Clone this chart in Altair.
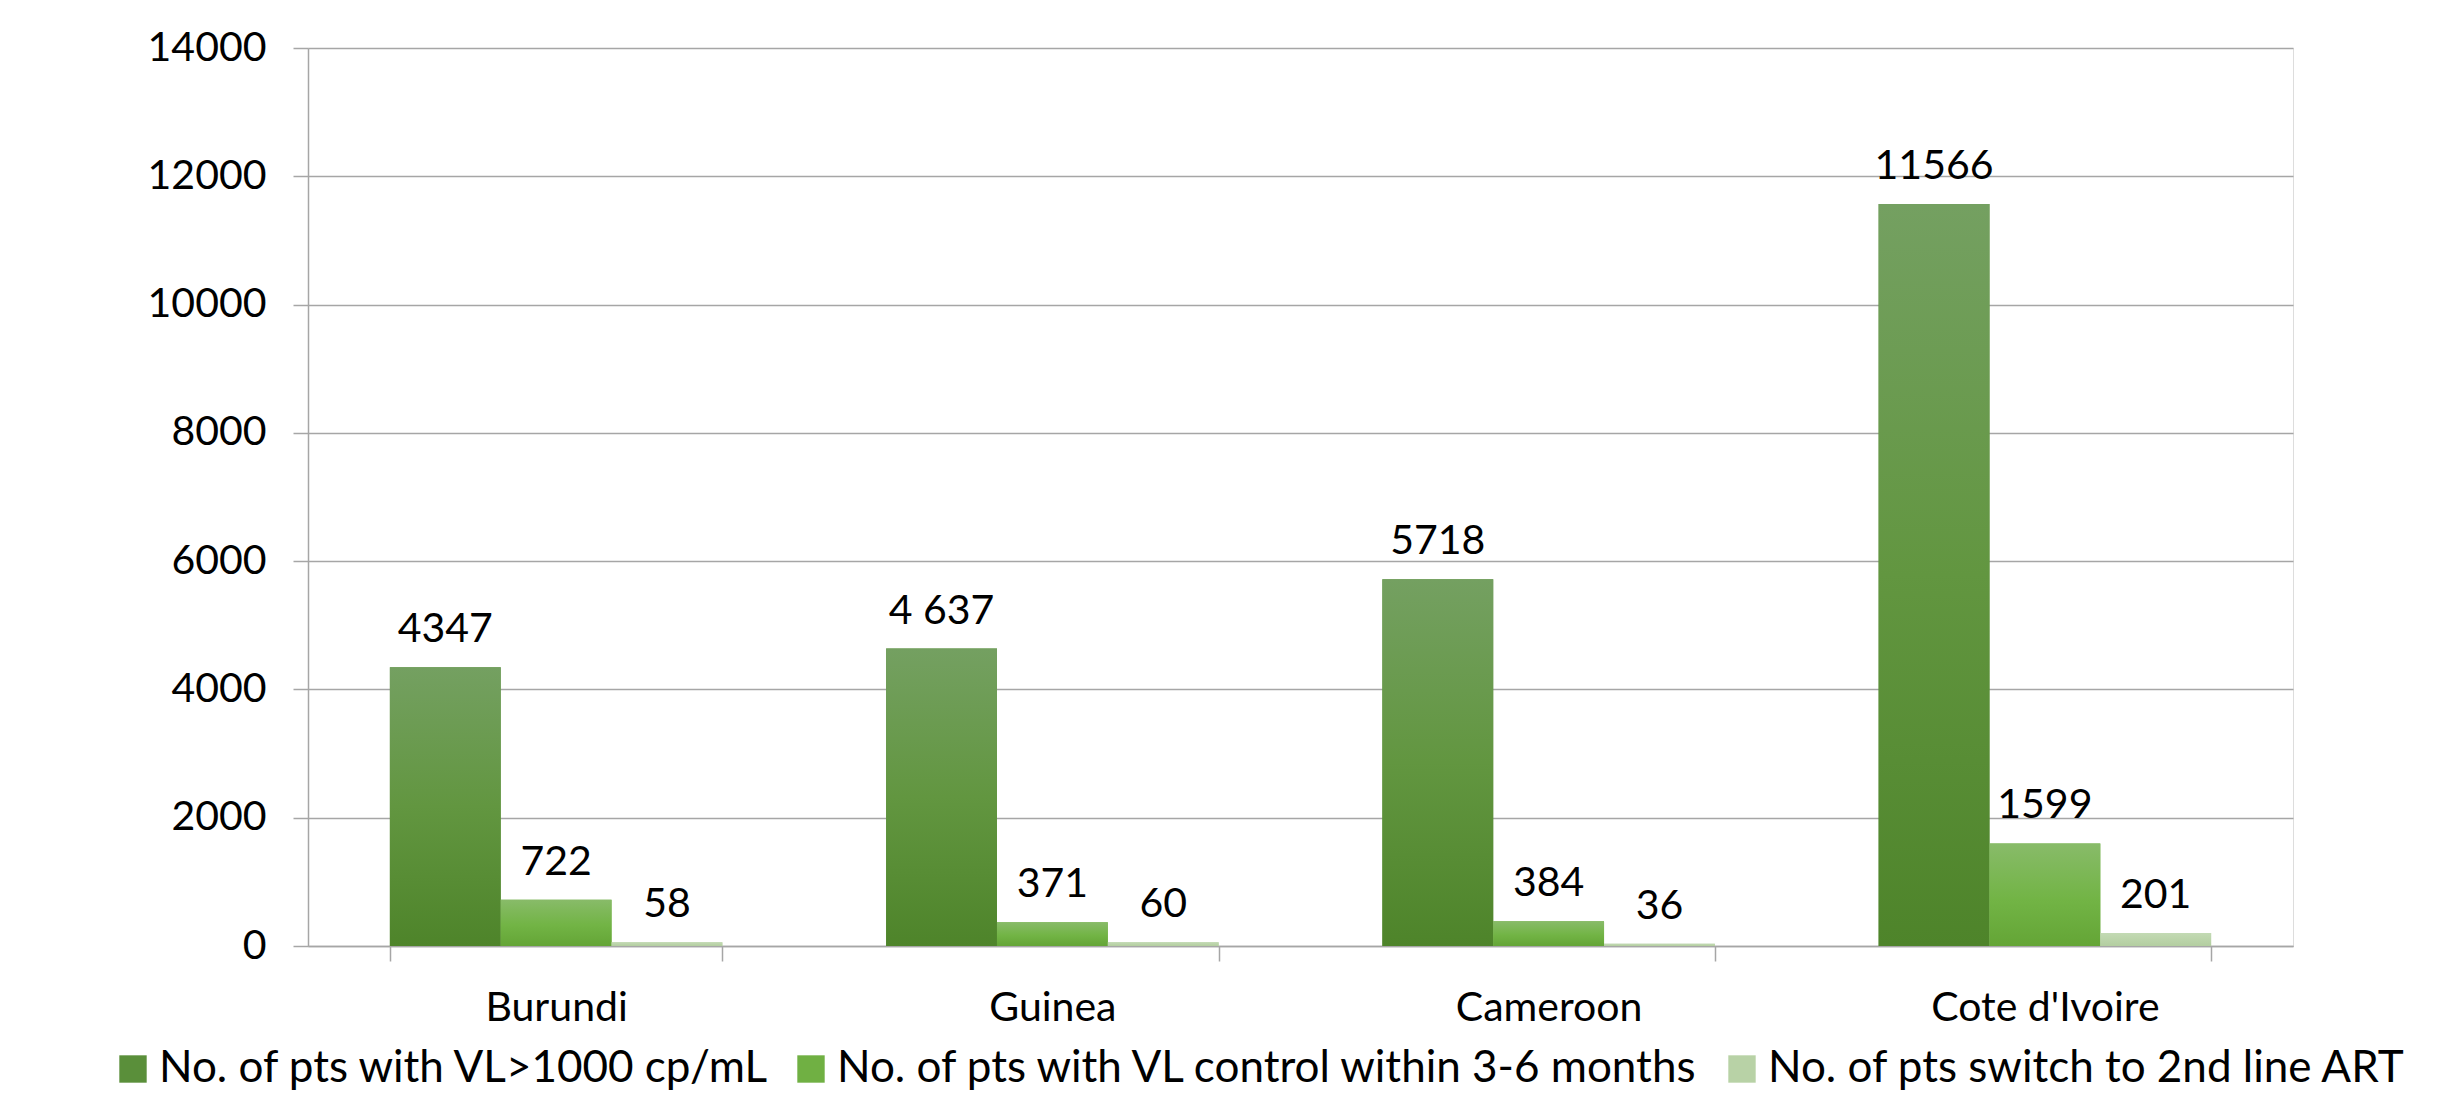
import altair as alt
import pandas as pd

# Countries on the category axis
countries = ["Burundi", "Guinea", "Cameroon", "Cote d'Ivoire"]

# Series names (legend order)
series = [
    "No. of pts with VL>1000 cp/mL",
    "No. of pts with VL control within 3-6 months",
    "No. of pts switch to 2nd line ART",
]

# Values per series, one entry per country
vl_above_1000 = [4347, 4637, 5718, 11566]
vl_controlled = [722, 371, 384, 1599]
switched_2nd_line = [58, 60, 36, 201]

# Printed labels above the bars (Guinea's first value is written with a space)
labels_vl_above_1000 = ["4347", "4 637", "5718", "11566"]
labels_vl_controlled = [str(v) for v in vl_controlled]
labels_switched = [str(v) for v in switched_2nd_line]

y_ticks = [0, 2000, 4000, 6000, 8000, 10000, 12000, 14000]

# Solid colours for the legend swatches, gradient stops for the bars
solid = ["#5a8f3a", "#70b043", "#b8d2a6"]
gradients = [
    [("#74a061", 0.0), ("#629640", 0.5), ("#4e842a", 1.0)],
    [("#88bb69", 0.0), ("#72b445", 0.55), ("#64a536", 1.0)],
    [("#c3dab4", 0.0), ("#b3cea0", 1.0)],
]

rows = []
for s, vals, labs in zip(series,
                         [vl_above_1000, vl_controlled, switched_2nd_line],
                         [labels_vl_above_1000, labels_vl_controlled, labels_switched]):
    for c, v, lab in zip(countries, vals, labs):
        rows.append({"country": c, "series": s, "value": v, "label": lab})
df = pd.DataFrame(rows)

FONT = "Lato"
FS = 41
LEGEND_FS = 44
GRID = "#a6a6a6"

base = alt.Chart(df).encode(
    x=alt.X(
        "country:N",
        sort=countries,
        title=None,
        scale=alt.Scale(paddingInner=0.33, paddingOuter=0.165),
        axis=alt.Axis(
            labelAngle=0,
            labelFont=FONT,
            labelFontSize=FS,
            labelColor="black",
            labelLimit=1000,
            labelPadding=27,
            tickBand="extent",
            tickSize=15,
            tickColor=GRID,
            tickWidth=1.5,
            domainColor=GRID,
            domainWidth=1.5,
            grid=False,
        ),
    ),
    xOffset=alt.XOffset(
        "series:N",
        sort=series,
        scale=alt.Scale(domain=series, paddingInner=0, paddingOuter=0),
    ),
    y=alt.Y(
        "value:Q",
        title=None,
        scale=alt.Scale(domain=[0, 14000], nice=False),
        axis=alt.Axis(
            values=y_ticks,
            format="d",
            labelFont=FONT,
            labelFontSize=FS,
            labelColor="black",
            labelPadding=27,
            tickSize=15,
            tickColor=GRID,
            tickWidth=1.5,
            domainColor=GRID,
            domainWidth=1.5,
            grid=True,
            gridColor=GRID,
            gridWidth=1.5,
        ),
    ),
)

# Solid bars carry the colour legend
legend_bars = base.mark_bar().encode(
    color=alt.Color(
        "series:N",
        sort=series,
        scale=alt.Scale(domain=series, range=solid),
        legend=alt.Legend(
            title=None,
            orient="none",
            direction="horizontal",
            legendX=-197,
            legendY=999,
            padding=0,
            symbolType="square",
            symbolSize=750,
            symbolStrokeWidth=0,
            labelFont=FONT,
            labelFontSize=LEGEND_FS,
            labelColor="black",
            labelLimit=1200,
            labelOffset=4,
            columnPadding=18,
        ),
    )
)

# Gradient-filled bars drawn over the solid ones, one layer per series
gradient_layers = []
for s, stops in zip(series, gradients):
    fill = {
        "gradient": "linear",
        "x1": 0, "x2": 0, "y1": 0, "y2": 1,
        "stops": [{"offset": o, "color": c} for c, o in stops],
    }
    gradient_layers.append(
        base.transform_filter(alt.datum.series == s).mark_bar(fill=fill)
    )

value_labels = base.mark_text(
    baseline="alphabetic", dy=-25, font=FONT, fontSize=FS, color="black"
).encode(text="label:N")

chart = (
    alt.layer(legend_bars, *gradient_layers, value_labels)
    .properties(
        width=1985,
        height=898,
        autosize=alt.AutoSizeParams(type="none"),
        padding={"left": 308, "top": 48, "right": 161, "bottom": 151},
    )
    .configure_view(stroke=None)
    .configure(background="white")
)

chart.save("out.html", embed_options={"renderer": "svg", "actions": False})
